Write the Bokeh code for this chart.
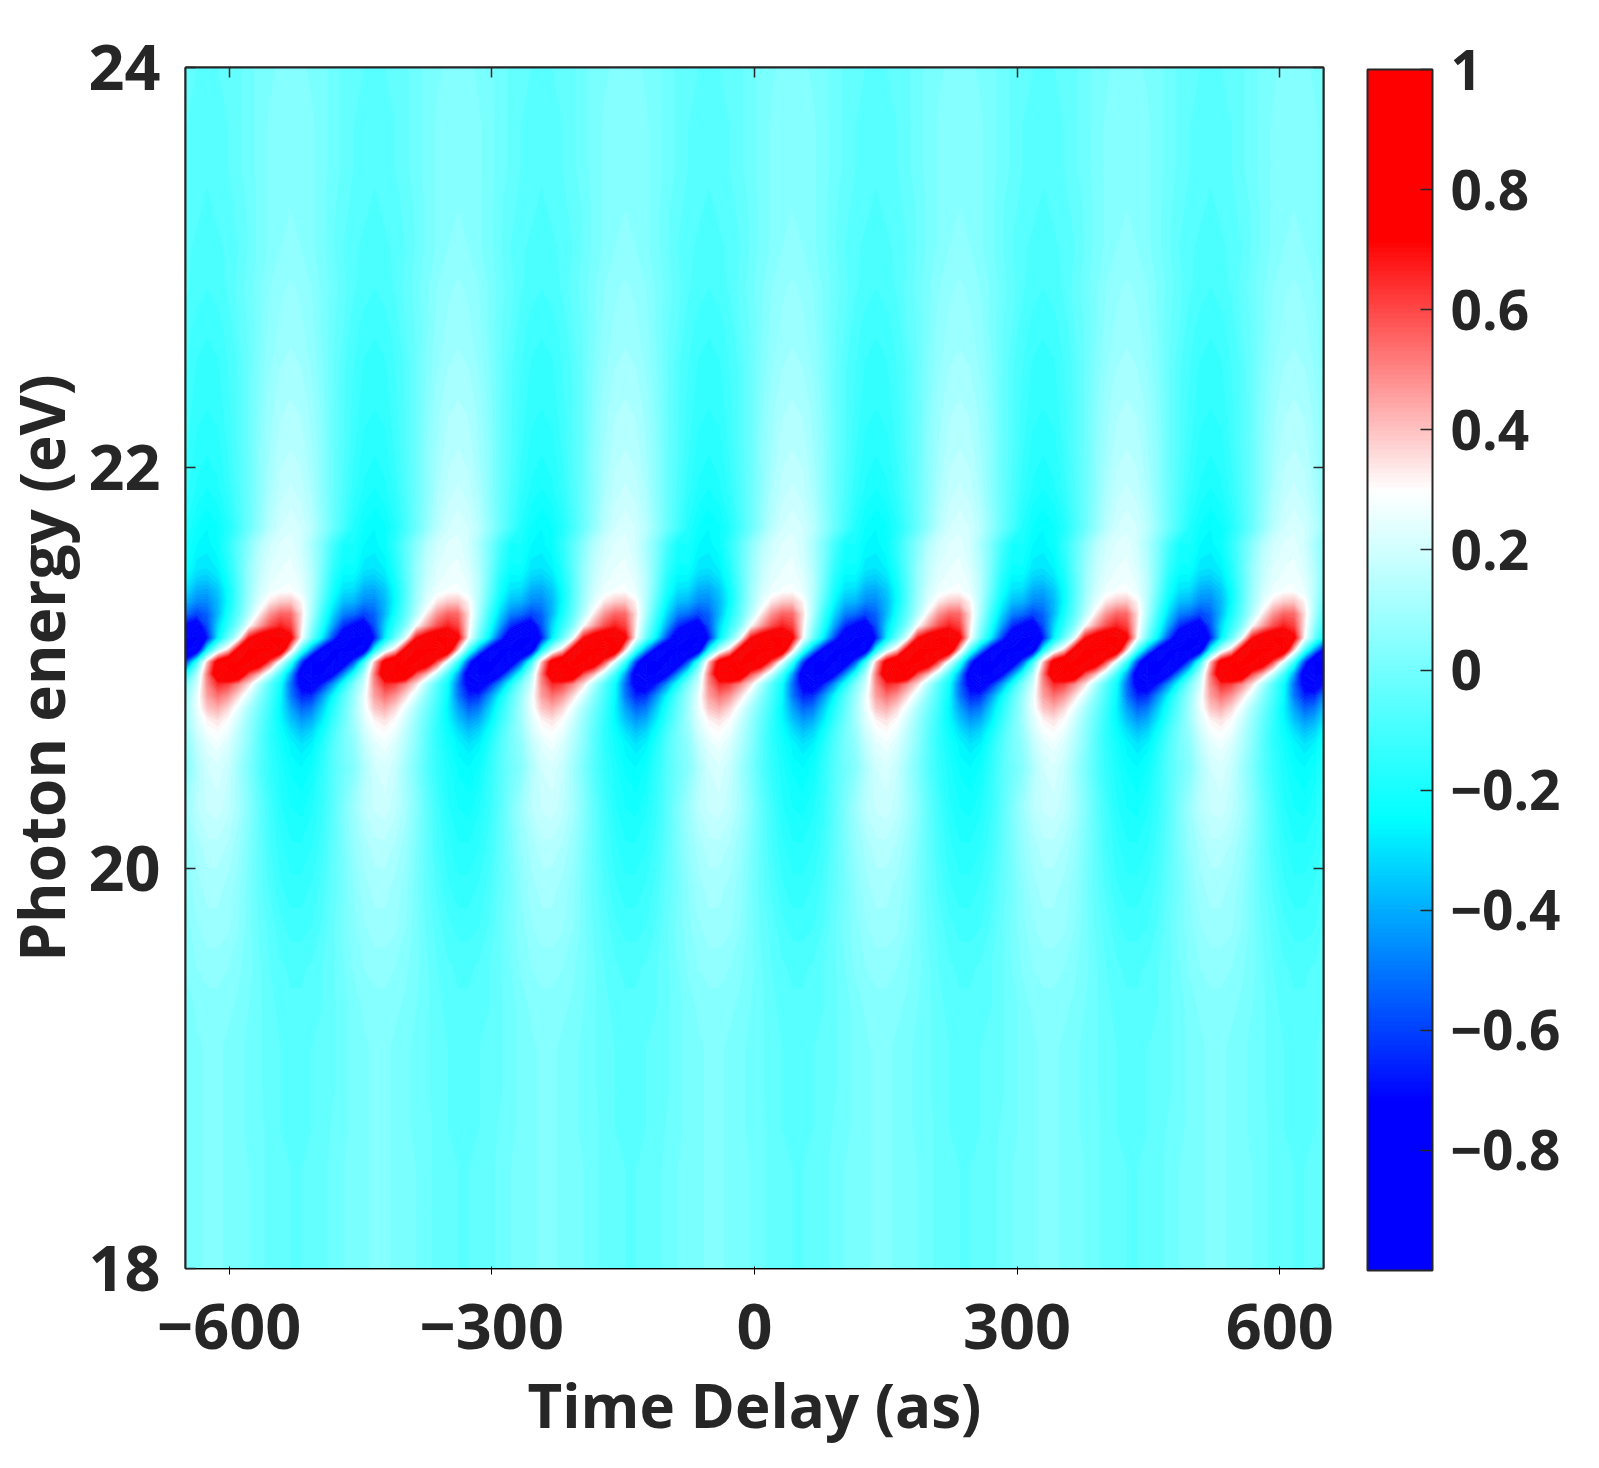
import numpy as np
from bokeh.embed import file_html
from bokeh.models import ColorBar, FixedTicker, LinearAxis, LinearColorMapper
from bokeh.plotting import figure
from bokeh.resources import INLINE

# tiempo (as) y energia (eV)
x_low, x_high = -650, 650
y_low, y_high = 18, 24
x_ticks = [-600, -300, 0, 300, 600]
x_labels = ["\u2212600", "\u2212300", "0", "300", "600"]
y_ticks = [18, 20, 22, 24]
cb_ticks = [-0.8, -0.6, -0.4, -0.2, 0, 0.2, 0.4, 0.6, 0.8, 1]
cb_labels = ["\u22120.8", "\u22120.6", "\u22120.4", "\u22120.2", "0", "0.2", "0.4", "0.6", "0.8", "1"]

# un periodo de la senal (16 columnas); filas de arriba a abajo
period_as = 191
first_column_as = -649

upper_energy = [24.0, 23.7, 23.5, 23.3, 23.1, 22.9, 22.7, 22.5, 22.3, 22.1, 21.9, 21.7]
upper_rows = [
    [-.04, -.05, -.05, -.05, -.04, -.03, -.01, .01, .02, .03, .03, .03, .02, .01, -.01, -.03],
    [-.05, -.06, -.06, -.06, -.05, -.03, -.01, .01, .03, .04, .04, .04, .03, .01, -.01, -.03],
    [-.05, -.06, -.07, -.06, -.05, -.03, -.01, .01, .03, .04, .05, .04, .03, .01, -.01, -.03],
    [-.06, -.07, -.08, -.07, -.06, -.04, -.02, .01, .03, .04, .05, .04, .03, .01, -.02, -.04],
    [-.07, -.08, -.09, -.08, -.07, -.05, -.02, .01, .03, .05, .06, .05, .03, .01, -.02, -.05],
    [-.07, -.09, -.10, -.09, -.07, -.04, -.01, .02, .05, .07, .08, .07, .05, .02, -.01, -.04],
    [-.09, -.11, -.12, -.11, -.09, -.05, -.02, .02, .06, .08, .09, .08, .06, .02, -.02, -.05],
    [-.10, -.13, -.14, -.13, -.10, -.07, -.02, .03, .07, .10, .11, .10, .07, .03, -.02, -.07],
    [-.11, -.14, -.15, -.14, -.11, -.07, -.02, .04, .09, .12, .13, .12, .09, .04, -.02, -.07],
    [-.12, -.16, -.17, -.16, -.12, -.07, -.02, .05, .10, .14, .15, .14, .10, .05, -.02, -.07],
    [-.14, -.18, -.20, -.18, -.14, -.08, -.02, .05, .12, .16, .18, .16, .12, .05, -.02, -.08],
    [-.18, -.23, -.25, -.23, -.18, -.10, -.02, .07, .15, .20, .22, .20, .15, .07, -.02, -.10],
]

band_energy = [21.62, 21.56, 21.50, 21.45, 21.39, 21.33, 21.27, 21.21, 21.15, 21.09,
               21.03, 20.97, 20.92, 20.86, 20.80, 20.74, 20.68, 20.62, 20.56, 20.50]
band_rows = [
    [-.20, -.25, -.26, -.23, -.15, -.05, .05, .14, .20, .23, .24, .20, .12, .02, -.10, -.20],
    [-.21, -.27, -.28, -.25, -.16, -.05, .06, .16, .21, .24, .25, .21, .13, .02, -.12, -.21],
    [-.23, -.29, -.30, -.27, -.18, -.05, .08, .17, .23, .25, .26, .22, .14, .01, -.14, -.23],
    [-.26, -.33, -.34, -.30, -.20, -.06, .08, .18, .24, .26, .27, .24, .15, .00, -.17, -.26],
    [-.31, -.40, -.41, -.35, -.23, -.07, .09, .20, .26, .28, .285, .25, .15, -.02, -.20, -.30],
    [-.39, -.47, -.47, -.38, -.24, -.06, .10, .24, .34, .39, .40, .32, .14, -.06, -.25, -.37],
    [-.52, -.60, -.54, -.38, -.20, -.04, .15, .33, .48, .56, .55, .36, .12, -.12, -.32, -.48],
    [-.75, -.82, -.58, -.32, -.14, .04, .30, .46, .60, .68, .62, .34, .06, -.18, -.42, -.65],
    [-.98, -1.0, -.68, -.28, -.02, .25, .70, .85, .90, .90, .75, .30, -.02, -.28, -.60, -.88],
    [-1.0, -.88, -.22, .15, .38, .80, 1.0, 1.0, 1.0, .92, .38, -.08, -.45, -.80, -1.0, -1.0],
    [-.58, -.12, .40, .80, .95, 1.0, 1.0, .90, .60, .24, -.12, -.60, -1.0, -1.0, -1.0, -.90],
    [-.18, .12, .52, .88, 1.0, .95, .60, .42, .18, -.10, -.42, -.85, -1.0, -1.0, -.78, -.48],
    [.02, .20, .50, .66, .62, .50, .36, .14, -.06, -.22, -.52, -.78, -.85, -.68, -.45, -.20],
    [.08, .26, .46, .54, .48, .36, .22, .05, -.09, -.24, -.50, -.66, -.64, -.45, -.25, -.07],
    [.10, .26, .40, .44, .37, .26, .12, .00, -.12, -.26, -.42, -.54, -.50, -.34, -.18, -.04],
    [.10, .23, .32, .35, .30, .20, .08, -.03, -.14, -.25, -.36, -.44, -.40, -.28, -.14, -.02],
    [.08, .20, .28, .30, .26, .16, .06, -.05, -.15, -.23, -.30, -.36, -.32, -.22, -.10, .00],
    [.06, .17, .24, .27, .22, .14, .05, -.06, -.15, -.21, -.26, -.30, -.27, -.18, -.08, .00],
    [.05, .15, .22, .24, .20, .12, .03, -.06, -.14, -.20, -.25, -.27, -.24, -.16, -.07, .00],
    [.04, .13, .20, .22, .18, .10, .02, -.07, -.14, -.19, -.23, -.25, -.22, -.15, -.07, -.01],
]

lower_energy = [20.3, 20.1, 19.9, 19.7, 19.5, 19.3, 19.1, 18.9, 18.7, 18.5, 18.3, 18.0]
lower_rows = [
    [.09, .15, .18, .19, .16, .11, .04, -.04, -.11, -.17, -.20, -.21, -.18, -.13, -.06, .02],
    [.07, .11, .14, .14, .12, .08, .02, -.04, -.10, -.14, -.17, -.17, -.15, -.11, -.05, .01],
    [.05, .09, .11, .11, .09, .06, .01, -.04, -.08, -.12, -.14, -.14, -.12, -.09, -.04, .00],
    [.04, .07, .09, .09, .08, .05, .01, -.03, -.06, -.09, -.11, -.11, -.10, -.07, -.03, .01],
    [.03, .05, .06, .06, .05, .03, .01, -.02, -.05, -.07, -.08, -.08, -.07, -.05, -.03, .00],
    [.01, .03, .04, .04, .03, .02, .00, -.02, -.04, -.06, -.07, -.07, -.06, -.05, -.03, -.01],
    [.01, .02, .03, .03, .02, .01, -.01, -.02, -.04, -.05, -.06, -.06, -.05, -.04, -.03, -.01],
    [.01, .02, .03, .03, .02, .01, -.01, -.02, -.04, -.05, -.06, -.06, -.05, -.04, -.03, -.01],
    [.01, .02, .03, .03, .02, .01, -.01, -.02, -.03, -.05, -.05, -.05, -.05, -.04, -.02, -.01],
    [.01, .02, .03, .03, .02, .01, .00, -.02, -.03, -.04, -.05, -.05, -.04, -.03, -.02, .00],
    [.01, .02, .03, .03, .02, .01, .00, -.02, -.03, -.04, -.05, -.05, -.04, -.03, -.02, .00],
    [.01, .02, .03, .03, .02, .01, .00, -.02, -.03, -.04, -.05, -.05, -.04, -.03, -.02, .00],
]

# mapa de color: tramos rectos entre estos valores
cmap_values = [-1, -0.72, -0.25, 0.3, 0.72, 1]
cmap_red = [0, 0, 0, 255, 255, 255]
cmap_green = [0, 0, 255, 255, 0, 0]
cmap_blue = [255, 255, 255, 255, 0, 0]


def to_colors(values):
    return ["#%02x%02x%02x" % (round(r), round(g), round(b)) for r, g, b in zip(
        np.interp(values, cmap_values, cmap_red),
        np.interp(values, cmap_values, cmap_green),
        np.interp(values, cmap_values, cmap_blue))]


mapper = LinearColorMapper(palette=to_colors(np.linspace(-1, 1, 256)), low=-1, high=1)

INK = "#262626"
FONT = "Open Sans"

p = figure(frame_width=1138, frame_height=1201, x_range=(x_low, x_high), y_range=(y_low, y_high),
           output_backend="svg", toolbar_location=None,
           min_border_left=177, min_border_top=67, min_border_right=250, min_border_bottom=10,
           background_fill_color="#70ffff", outline_line_color=INK, outline_line_width=2)
p.styles = {"margin-left": "-4px"}
p.grid.visible = False

# el periodo se repite en el tiempo hasta cubrir todo el eje
n_repeats = 8
n_columns = len(band_rows[0])
one_period = np.flipud(np.array(upper_rows + band_rows + lower_rows, dtype=float))
energy = np.array(upper_energy + band_energy + lower_energy)[::-1]
z = np.roll(np.tile(one_period, (1, n_repeats)), 1, axis=1)
delay = first_column_as + (np.arange(z.shape[1]) - 1) * period_as / n_columns

levels = np.arange(-1.025, 1.05, 0.025)
p.contour(delay, energy, z, levels,
          fill_color=to_colors((levels[:-1] + levels[1:]) / 2),
          line_color=to_colors(levels), line_width=1)

p.xaxis.ticker = FixedTicker(ticks=x_ticks)
p.xaxis.major_label_overrides = dict(zip(x_ticks, x_labels))
p.yaxis.ticker = FixedTicker(ticks=y_ticks)
p.xaxis.axis_label = "Time Delay (as)"
p.yaxis.axis_label = "Photon energy (eV)"

for ax in [p.xaxis[0], p.yaxis[0]]:
    ax.major_label_text_font = FONT
    ax.major_label_text_font_style = "bold"
    ax.major_label_text_font_size = "63px"
    ax.major_label_text_color = INK
    ax.axis_label_text_font = FONT
    ax.axis_label_text_font_style = "bold"
    ax.axis_label_text_color = INK

p.xaxis.major_label_standoff = 29
p.xaxis.axis_label_standoff = 12
p.xaxis.axis_label_text_font_size = "60px"
p.yaxis.major_label_standoff = 25
p.yaxis.axis_label_standoff = 2
p.yaxis.axis_label_text_font_size = "62px"

# marcas arriba y a la derecha, sin numeros
top_axis = LinearAxis(ticker=FixedTicker(ticks=x_ticks), major_label_overrides={t: "" for t in x_ticks})
right_axis = LinearAxis(ticker=FixedTicker(ticks=y_ticks), major_label_overrides={t: "" for t in y_ticks})
p.add_layout(top_axis, "above")
p.add_layout(right_axis, "right")

for ax in [p.xaxis[0], p.yaxis[0], top_axis, right_axis]:
    ax.axis_line_color = INK
    ax.axis_line_width = 2
    ax.major_tick_line_color = INK
    ax.major_tick_line_width = 1.5
    ax.major_tick_in = 10
    ax.major_tick_out = 0
    ax.minor_tick_line_color = None

top_axis.major_label_standoff = 0
right_axis.major_label_standoff = 0

bar = ColorBar(color_mapper=mapper, ticker=FixedTicker(ticks=cb_ticks),
               major_label_overrides=dict(zip(cb_ticks, cb_labels)),
               width=65, height=1201, padding=0, location=(44, -2),
               bar_line_color=INK, bar_line_width=2,
               major_tick_line_color=INK, major_tick_line_width=1.5,
               major_tick_in=12, major_tick_out=0, minor_tick_line_color=None,
               label_standoff=18, major_label_text_font=FONT, major_label_text_font_style="bold",
               major_label_text_font_size="55px", major_label_text_color=INK,
               background_fill_color=None, border_line_color=None)
p.add_layout(bar, "right")

open("out.html", "w").write(file_html(p, INLINE))
